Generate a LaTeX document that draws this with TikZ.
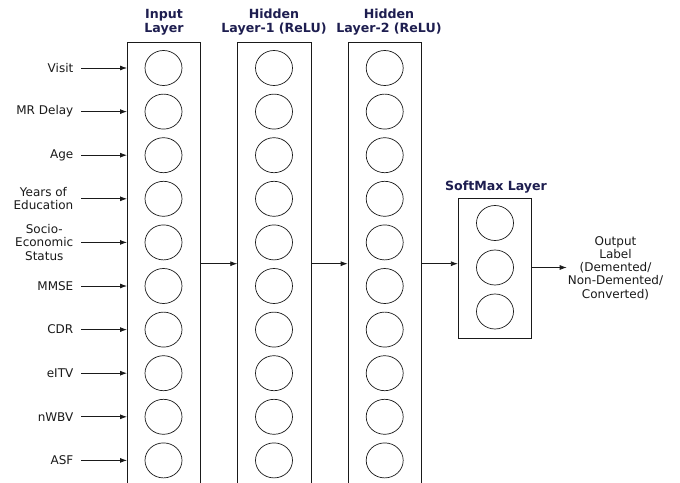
\documentclass[tikz,border=0pt]{standalone}
\usepackage{fontspec}
\setmainfont{DejaVu Sans}
\usetikzlibrary{arrows.meta,shapes.geometric}
\definecolor{navy}{HTML}{1E1E50}
\definecolor{ink}{HTML}{1A1A1A}
\begin{document}
\begin{tikzpicture}[x=1pt,y=-1pt,
  lay/.style={draw=ink, line width=0.8pt, minimum width=73.4pt, minimum height=520pt, anchor=north west, inner sep=0pt},
  smbox/.style={draw=ink, line width=0.8pt, minimum width=73.4pt, minimum height=140pt, inner sep=0pt},
  neuron/.style={draw=ink, ellipse, line width=0.7pt, minimum width=37pt, minimum height=35pt, inner sep=0pt},
  feat/.style={anchor=east, inner sep=0pt, align=center, font=\fontsize{12}{13.3}\selectfont, text=ink},
  ttl/.style={align=center, inner sep=0pt, font=\fontsize{12.6}{14}\selectfont\bfseries, text=navy},
  outlbl/.style={align=center, inner sep=0pt, font=\fontsize{12}{13.3}\selectfont, text=ink},
  arr/.style={draw=ink, line width=0.8pt, -{Latex[length=7pt,width=5pt]}}]
\useasboundingbox (0,0) rectangle (680,482);
\clip (0,0) rectangle (680,482);
\fill[white] (0,0) rectangle (680,482);
% layer boxes
\node[lay] (inbox) at (127,41.7) {};
\node[lay] (h1box) at (237.3,41.7) {};
\node[lay] (h2box) at (347.7,41.7) {};
\node[smbox] (sm) at (495,268.3) {};
% titles
\node[ttl] (tin) at (164,22) {Input\\Layer};
\node[ttl] (th1) at (274,22) {Hidden\\Layer-1 (ReLU)};
\node[ttl] (th2) at (389,22) {Hidden\\Layer-2 (ReLU)};
\node[ttl] (tsm) at (496,187) {SoftMax Layer};
% input features
\foreach \i/\t in {1/Visit,2/MR Delay,3/Age,4/{Years of\\Education},5/{Socio-\\Economic\\Status},6/MMSE,7/CDR,8/eITV,9/nWBV,10/ASF}{
  \pgfmathsetmacro\yy{68+43.6*(\i-1)}
  \node[neuron] (in\i) at (163.5,\yy) {};
  \node[neuron] (ha\i) at (274,\yy) {};
  \node[neuron] (hb\i) at (384.7,\yy) {};
  \node[feat] (lab\i) at (73.5,\yy) {\t};
  \draw[arr] ([xshift=7.5pt]lab\i.east) -- (inbox.west |- lab\i.east);
}
% softmax neurons
\node[neuron] (s1) at (495,223) {};
\node[neuron] (s2) at (495,267.5) {};
\node[neuron] (s3) at (495,311.5) {};
% connectors between layers
\coordinate (mid) at (0,263.7);
\draw[arr] (inbox.east |- mid) -- (h1box.west |- mid);
\draw[arr] (h1box.east |- mid) -- (h2box.west |- mid);
\draw[arr] (h2box.east |- mid) -- (sm.west |- mid);
% output
\node[outlbl] (out) at (615.5,268) {Output\\Label\\(Demented/\\Non-Demented/\\Converted)};
\coordinate (outin) at (566.7,267.5);
\draw[arr] (sm.east |- s2) -- (outin);
\end{tikzpicture}
\end{document}
